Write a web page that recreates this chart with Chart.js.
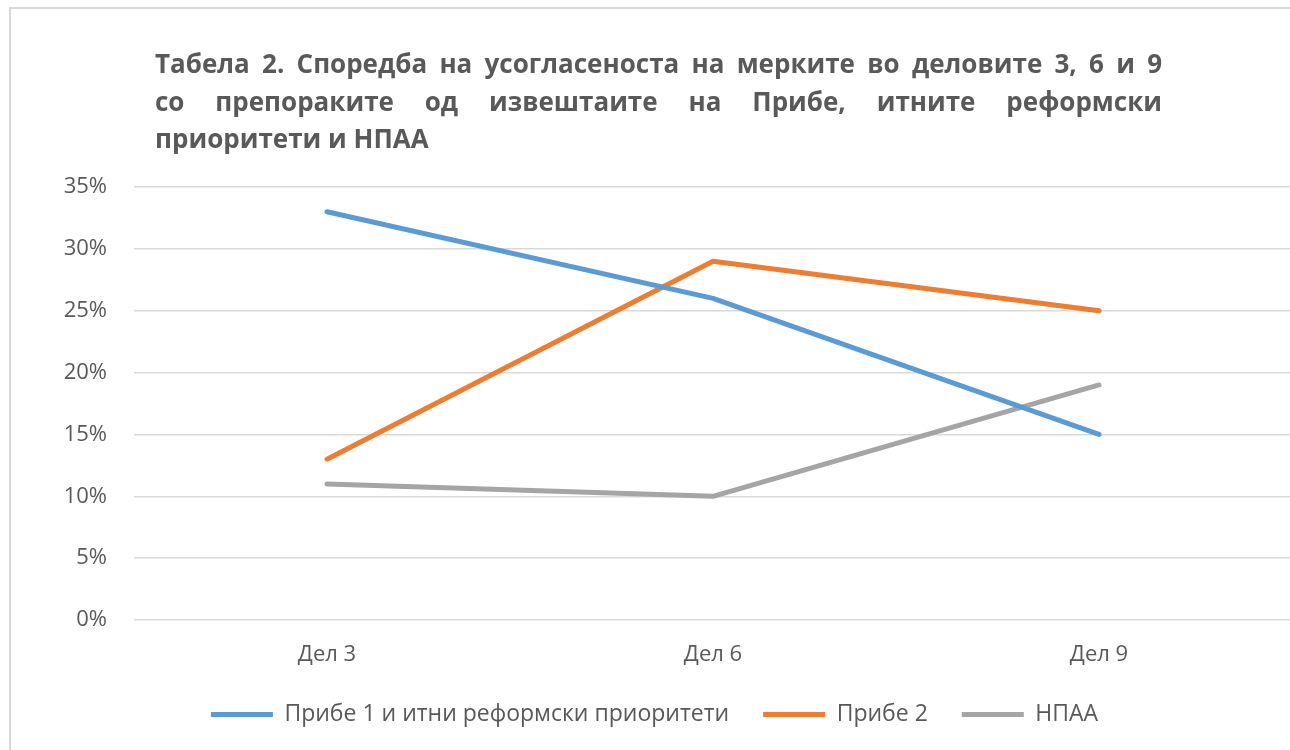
<!DOCTYPE html>
<html>
<head>
<meta charset="utf-8">
<script src="https://cdn.jsdelivr.net/npm/chart.js@4"></script>
<style>
  html, body { margin: 0; padding: 0; background: #fff; overflow: hidden; width: 1290px; height: 750px; }
  #frame { position: absolute; left: 9px; top: 7px; width: 1320px; height: 800px; border: 2px solid #d9d9d9; box-sizing: border-box; }
  #chart { position: absolute; left: 10px; top: 8px; }
</style>
</head>
<body>
<div id="frame"></div>
<canvas id="chart" width="1300" height="750"></canvas>
<script>
const categories = ['Дел 3', 'Дел 6', 'Дел 9'];
const seriesNames = ['Прибе 1 и итни реформски приоритети', 'Прибе 2', 'НПАА'];
const pribe1 = [33, 26, 15];
const pribe2 = [13, 29, 25];
const npaa = [11, 10, 19];
const yTicks = [0, 5, 10, 15, 20, 25, 30, 35];
const titleLines = [
  'Табела 2. Споредба на усогласеноста на мерките во деловите 3, 6 и 9',
  'со препораките од извештаите на Прибе, итните реформски',
  'приоритети и НПАА'
];

const textColor = '#595959';
const fontFamily = '"Open Sans", "Noto Sans", sans-serif';

// justified title, drawn like the Office one
const justifiedTitle = {
  id: 'justifiedTitle',
  afterDraw(chart) {
    const { ctx } = chart;
    const left = 145, right = 1152, baselines = [65, 103, 140];
    ctx.save();
    ctx.font = 'bold 26px ' + fontFamily;
    ctx.fillStyle = textColor;
    ctx.textBaseline = 'alphabetic';
    ctx.textAlign = 'left';
    titleLines.forEach((line, i) => {
      const words = line.split(' ');
      const widths = words.map(w => ctx.measureText(w).width);
      const total = widths.reduce((a, b) => a + b, 0);
      const space = ctx.measureText(' ').width;
      const gap = i < titleLines.length - 1
        ? (right - left - total) / (words.length - 1)
        : space;
      let x = left;
      words.forEach((w, j) => {
        ctx.fillText(w, x, baselines[i]);
        x += widths[j] + gap;
      });
    });
    ctx.restore();
  }
};

const makeSet = (label, data, color) => ({
  label,
  data,
  borderColor: color,
  backgroundColor: color,
  borderWidth: 5,
  borderCapStyle: 'round',
  borderJoinStyle: 'round',
  pointRadius: 0,
  pointHoverRadius: 0,
  tension: 0
});

new Chart(document.getElementById('chart'), {
  type: 'line',
  data: {
    labels: categories,
    datasets: [
      makeSet(seriesNames[0], pribe1, '#5b9bd5'),
      makeSet(seriesNames[1], pribe2, '#ed7d31'),
      makeSet(seriesNames[2], npaa, '#a5a5a5')
    ]
  },
  options: {
    responsive: false,
    animation: false,
    layout: { padding: { left: 7, right: 18, top: 179, bottom: 22 } },
    plugins: {
      title: { display: false },
      tooltip: { enabled: false },
      legend: {
        position: 'bottom',
        labels: {
          usePointStyle: true,
          pointStyle: 'line',
          pointStyleWidth: 62,
          padding: 34,
          color: textColor,
          font: { family: fontFamily, size: 23 }
        }
      }
    },
    scales: {
      x: {
        offset: true,
        grid: { display: false, drawTicks: false },
        border: { display: false },
        ticks: { color: textColor, padding: 22, font: { family: fontFamily, size: 22 } },
        afterFit(scale) { scale.height = 49; }
      },
      y: {
        min: 0,
        max: 35,
        afterBuildTicks(scale) { scale.ticks = yTicks.map(v => ({ value: v })); },
        grid: { color: '#d9d9d9', lineWidth: 1.5, drawTicks: false },
        border: { display: false },
        ticks: {
          color: textColor,
          padding: 27,
          font: { family: fontFamily, size: 22 },
          callback: v => v + '%'
        },
        afterFit(scale) { scale.width = 117; }
      }
    }
  },
  plugins: [justifiedTitle]
});
</script>
</body>
</html>
